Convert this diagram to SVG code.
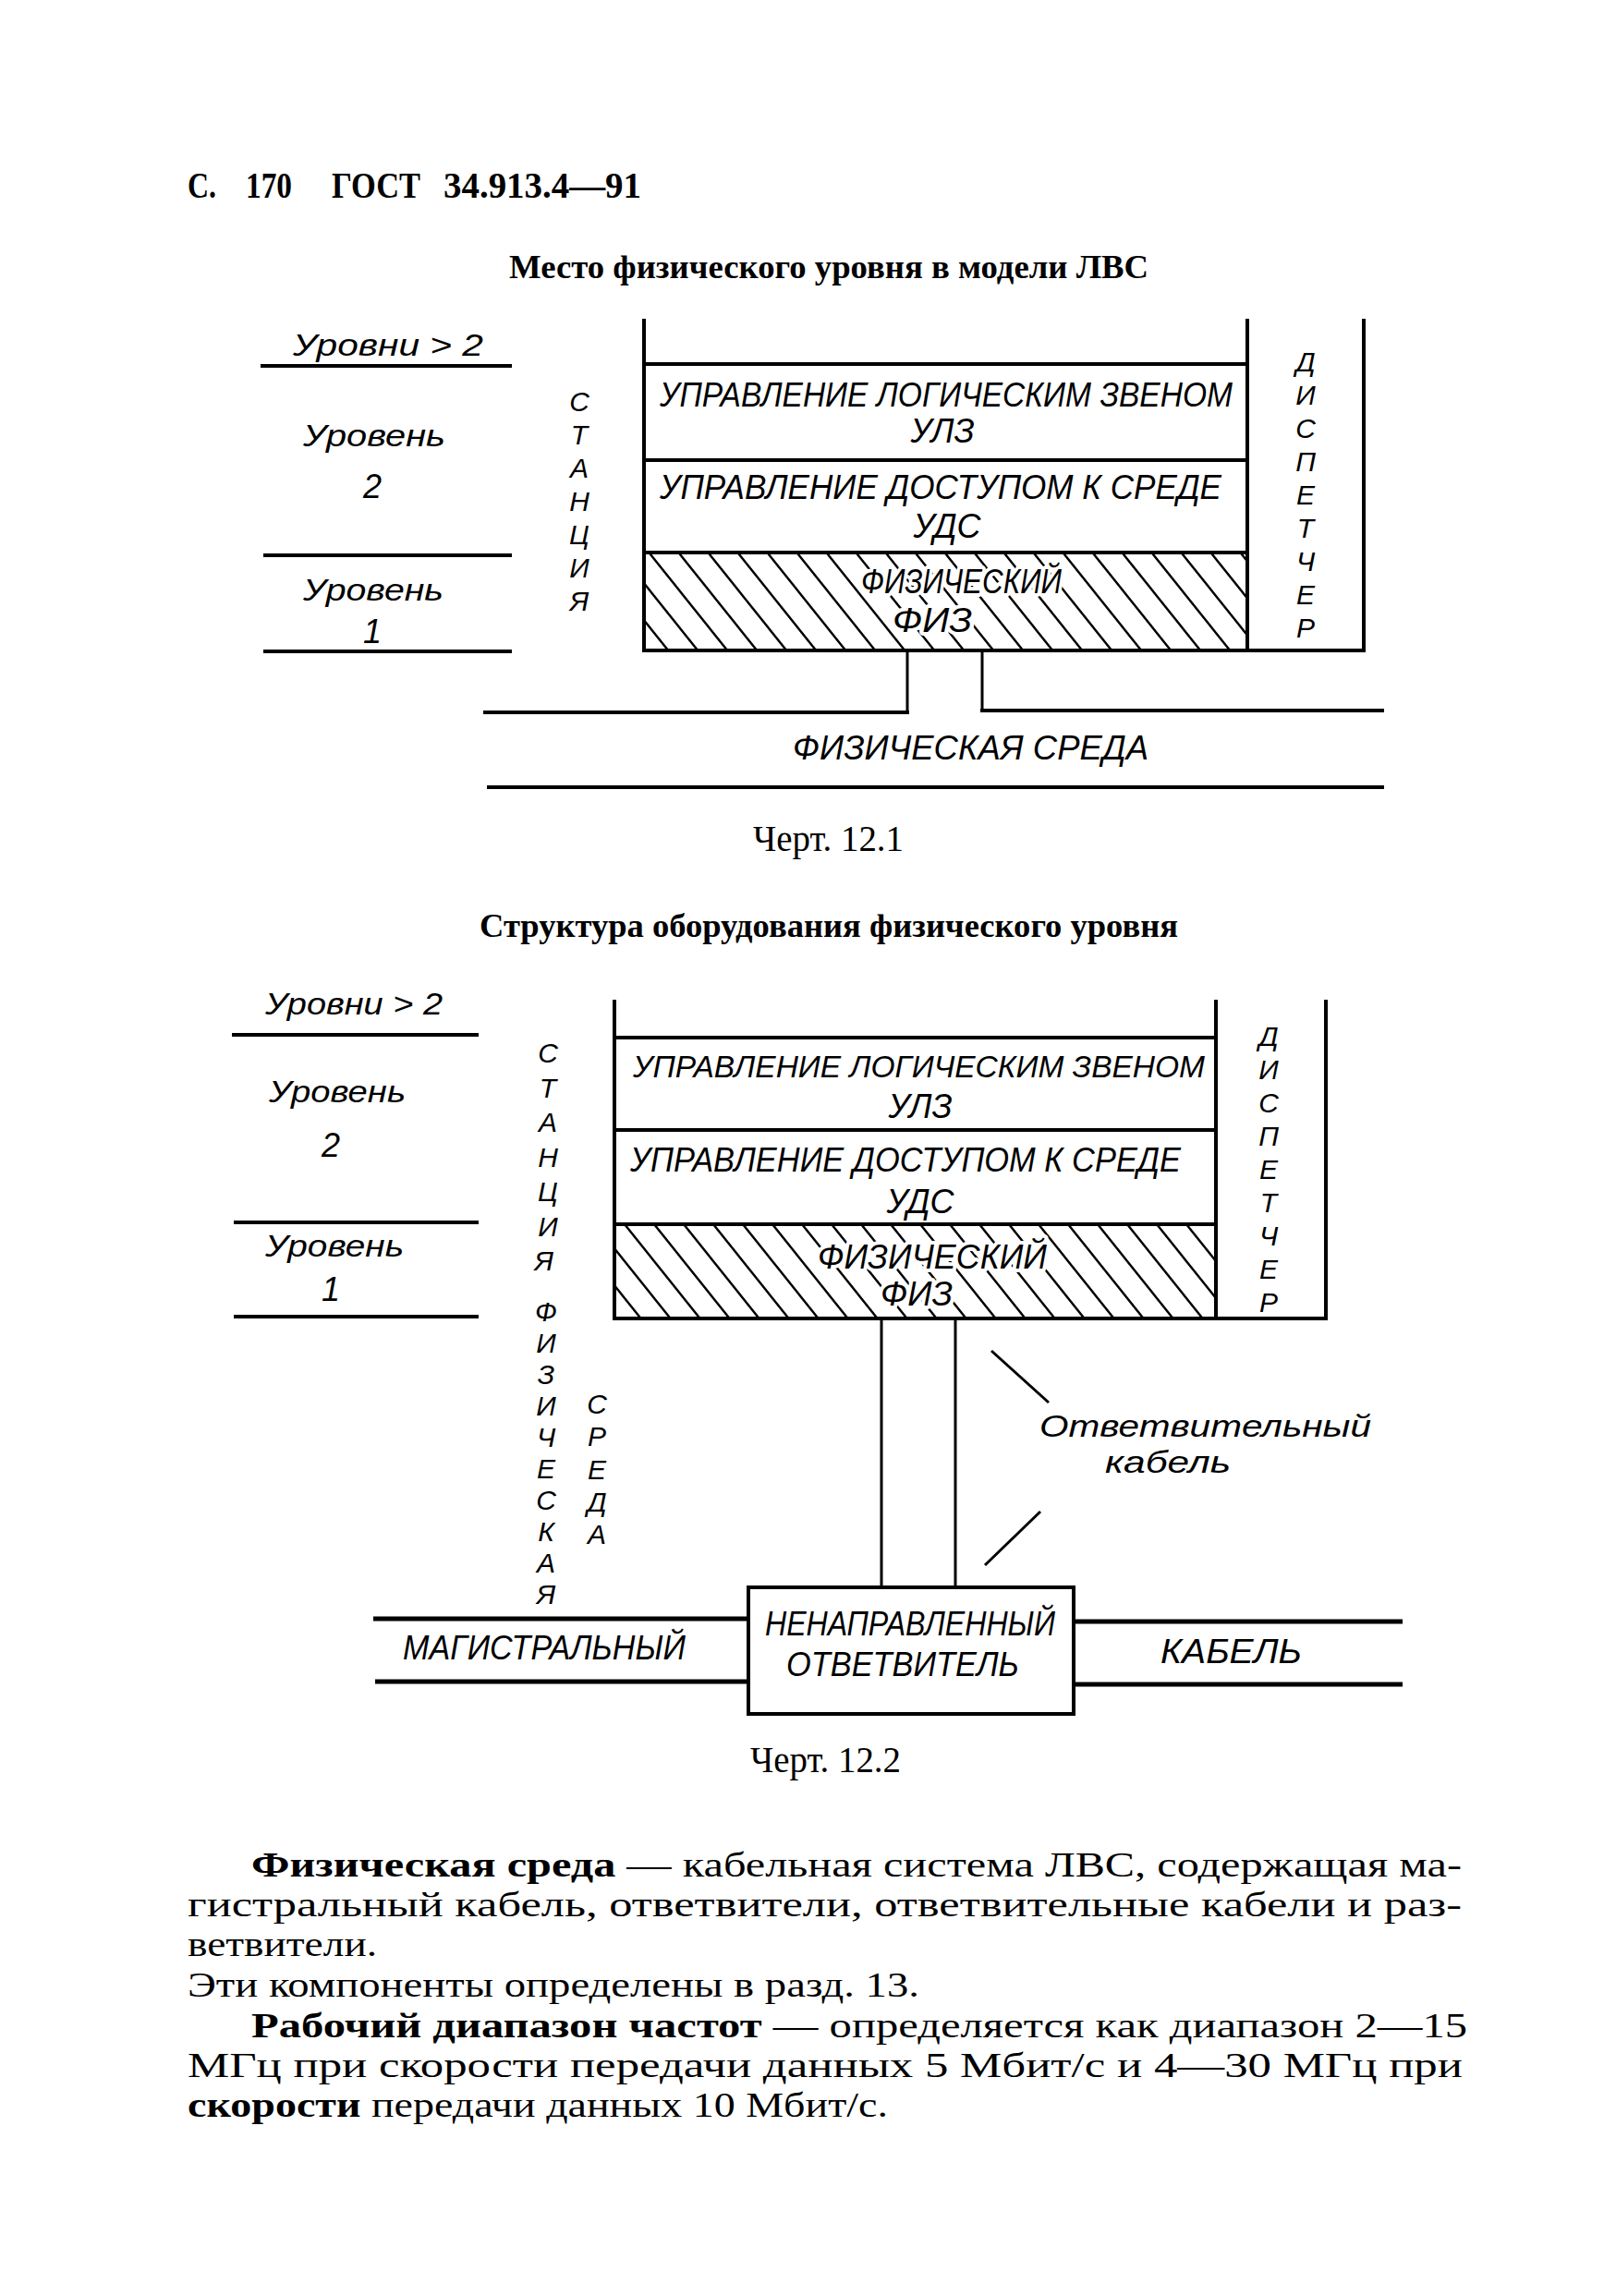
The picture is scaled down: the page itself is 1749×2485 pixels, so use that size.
<svg xmlns="http://www.w3.org/2000/svg" width="1749" height="2485" viewBox="0 0 1749 2485">
<style>
.ln{stroke:#000;stroke-width:4;fill:none}
.lt{stroke:#000;stroke-width:3;fill:none}
.tr{stroke:#000;stroke-width:5;fill:none}
.d{font-family:"Liberation Sans","DejaVu Sans",sans-serif;font-style:italic;fill:#000}
.s{font-family:"Liberation Serif","DejaVu Serif",serif;fill:#000}
.b{font-weight:bold}
.halo{stroke:#fff;stroke-width:8;paint-order:stroke;stroke-linejoin:round}
.col{text-anchor:middle;font-size:30px}
</style>
<defs>
<pattern id="hatch" patternUnits="userSpaceOnUse" width="32" height="40">
<path d="M-8,-10 L40,50 M24,-10 L72,50 M-40,-10 L8,50" stroke="#000" stroke-width="2.4" fill="none"/>
</pattern>
</defs>
<rect x="0" y="0" width="1749" height="2485" fill="#fff"/>

<g id="header">
<text class="s b" x="203" y="214" font-size="40" textLength="31" lengthAdjust="spacingAndGlyphs">С.</text>
<text class="s b" x="266" y="214" font-size="40" textLength="50" lengthAdjust="spacingAndGlyphs">170</text>
<text class="s b" x="359" y="214" font-size="40" textLength="96" lengthAdjust="spacingAndGlyphs">ГОСТ</text>
<text class="s b" x="480" y="214" font-size="40" textLength="214" lengthAdjust="spacingAndGlyphs">34.913.4—91</text>
</g>

<!-- Figure 12.1 -->
<g id="title1"><text class="s b" x="551" y="301" font-size="35" textLength="692" lengthAdjust="spacingAndGlyphs">Место физического уровня в модели ЛВС</text></g>

<g id="levels1">
<text class="d" x="317" y="385" font-size="34" textLength="206" lengthAdjust="spacingAndGlyphs">Уровни &gt; 2</text>
<line class="ln" x1="282" y1="396" x2="554" y2="396"/>
<text class="d" x="328" y="483" font-size="34" textLength="154" lengthAdjust="spacingAndGlyphs">Уровень</text>
<text class="d" x="403" y="539" font-size="36" text-anchor="middle">2</text>
<line class="ln" x1="285" y1="601" x2="554" y2="601"/>
<text class="d" x="328" y="650" font-size="34" textLength="152" lengthAdjust="spacingAndGlyphs">Уровень</text>
<text class="d" x="403" y="696" font-size="36" text-anchor="middle">1</text>
<line class="ln" x1="285" y1="705" x2="554" y2="705"/>
</g>

<g id="station1">
<text class="d col">
<tspan x="627" y="445">С</tspan><tspan x="627" y="481">Т</tspan><tspan x="627" y="517">А</tspan><tspan x="627" y="553">Н</tspan><tspan x="627" y="589">Ц</tspan><tspan x="627" y="625">И</tspan><tspan x="627" y="661">Я</tspan>
</text>
</g>

<g id="stack1">
<rect x="697" y="598" width="653" height="106" fill="url(#hatch)"/>
<line class="ln" x1="697" y1="345" x2="697" y2="706"/>
<line class="ln" x1="1350" y1="345" x2="1350" y2="704"/>
<line class="ln" x1="697" y1="394" x2="1350" y2="394"/>
<line class="ln" x1="697" y1="498" x2="1350" y2="498"/>
<line class="ln" x1="697" y1="598" x2="1350" y2="598"/>
<line class="ln" x1="695" y1="704" x2="1478" y2="704"/>
<text class="d" x="714" y="440" font-size="36" textLength="620" lengthAdjust="spacingAndGlyphs">УПРАВЛЕНИЕ ЛОГИЧЕСКИМ ЗВЕНОМ</text>
<text class="d" x="1020" y="479" font-size="36" text-anchor="middle">УЛЗ</text>
<text class="d" x="714" y="540" font-size="37" textLength="608" lengthAdjust="spacingAndGlyphs">УПРАВЛЕНИЕ ДОСТУПОМ К СРЕДЕ</text>
<text class="d" x="1025" y="582" font-size="36" text-anchor="middle">УДС</text>
<text class="d halo" x="932" y="642" font-size="36" textLength="217" lengthAdjust="spacingAndGlyphs">ФИЗИЧЕСКИЙ</text>
<text class="d halo" x="966" y="684" font-size="36" textLength="86" lengthAdjust="spacingAndGlyphs">ФИЗ</text>
</g>

<g id="dispatcher1">
<line class="ln" x1="1476" y1="345" x2="1476" y2="706"/>
<text class="d col">
<tspan x="1413" y="402">Д</tspan><tspan x="1413" y="438">И</tspan><tspan x="1413" y="474">С</tspan><tspan x="1413" y="510">П</tspan><tspan x="1413" y="546">Е</tspan><tspan x="1413" y="582">Т</tspan><tspan x="1413" y="618">Ч</tspan><tspan x="1413" y="654">Е</tspan><tspan x="1413" y="690">Р</tspan>
</text>
</g>

<g id="medium1">
<line class="ln" x1="523" y1="771" x2="984" y2="771"/>
<line class="ln" x1="1061" y1="769" x2="1498" y2="769"/>
<text class="d" x="858" y="822" font-size="37" textLength="385" lengthAdjust="spacingAndGlyphs">ФИЗИЧЕСКАЯ СРЕДА</text>
<line class="ln" x1="527" y1="852" x2="1498" y2="852"/>
</g>

<g id="connectors1">
<line class="lt" x1="982" y1="704" x2="982" y2="773"/>
<line class="lt" x1="1063" y1="704" x2="1063" y2="771"/>
</g>

<g id="caption1"><text class="s" x="815" y="921" font-size="39" textLength="163" lengthAdjust="spacingAndGlyphs">Черт. 12.1</text></g>

<!-- Figure 12.2 -->
<g id="title2"><text class="s b" x="519" y="1014" font-size="35" textLength="756" lengthAdjust="spacingAndGlyphs">Структура оборудования физического уровня</text></g>

<g id="levels2">
<text class="d" x="287" y="1098" font-size="34" textLength="192" lengthAdjust="spacingAndGlyphs">Уровни &gt; 2</text>
<line class="ln" x1="251" y1="1120" x2="518" y2="1120"/>
<text class="d" x="291" y="1193" font-size="34" textLength="148" lengthAdjust="spacingAndGlyphs">Уровень</text>
<text class="d" x="358" y="1252" font-size="36" text-anchor="middle">2</text>
<line class="ln" x1="253" y1="1323" x2="518" y2="1323"/>
<text class="d" x="287" y="1360" font-size="34" textLength="150" lengthAdjust="spacingAndGlyphs">Уровень</text>
<text class="d" x="358" y="1408" font-size="36" text-anchor="middle">1</text>
<line class="ln" x1="253" y1="1425" x2="518" y2="1425"/>
</g>

<g id="station2">
<text class="d col">
<tspan x="593" y="1150">С</tspan><tspan x="593" y="1188">Т</tspan><tspan x="593" y="1225">А</tspan><tspan x="593" y="1263">Н</tspan><tspan x="593" y="1300">Ц</tspan><tspan x="593" y="1338">И</tspan><tspan x="593" y="1375">Я</tspan>
<tspan x="591" y="1430">Ф</tspan><tspan x="591" y="1464">И</tspan><tspan x="591" y="1498">З</tspan><tspan x="591" y="1532">И</tspan><tspan x="591" y="1566">Ч</tspan><tspan x="591" y="1600">Е</tspan><tspan x="591" y="1634">С</tspan><tspan x="591" y="1668">К</tspan><tspan x="591" y="1702">А</tspan><tspan x="591" y="1736">Я</tspan>
</text>
<text class="d col">
<tspan x="646" y="1530">С</tspan><tspan x="646" y="1565">Р</tspan><tspan x="646" y="1601">Е</tspan><tspan x="646" y="1636">Д</tspan><tspan x="646" y="1671">А</tspan>
</text>
</g>

<g id="stack2">
<rect x="665" y="1325" width="651" height="102" fill="url(#hatch)"/>
<line class="ln" x1="665" y1="1082" x2="665" y2="1429"/>
<line class="ln" x1="1316" y1="1082" x2="1316" y2="1427"/>
<line class="ln" x1="665" y1="1123" x2="1316" y2="1123"/>
<line class="ln" x1="665" y1="1223" x2="1316" y2="1223"/>
<line class="ln" x1="665" y1="1325" x2="1316" y2="1325"/>
<line class="ln" x1="663" y1="1427" x2="1437" y2="1427"/>
<text class="d" x="685" y="1166" font-size="34" textLength="619" lengthAdjust="spacingAndGlyphs">УПРАВЛЕНИЕ ЛОГИЧЕСКИМ ЗВЕНОМ</text>
<text class="d" x="996" y="1210" font-size="36" text-anchor="middle">УЛЗ</text>
<text class="d" x="682" y="1268" font-size="36" textLength="596" lengthAdjust="spacingAndGlyphs">УПРАВЛЕНИЕ ДОСТУПОМ К СРЕДЕ</text>
<text class="d" x="996" y="1313" font-size="36" text-anchor="middle">УДС</text>
<text class="d halo" x="885" y="1373" font-size="36" textLength="248" lengthAdjust="spacingAndGlyphs">ФИЗИЧЕСКИЙ</text>
<text class="d halo" x="953" y="1413" font-size="36" textLength="78" lengthAdjust="spacingAndGlyphs">ФИЗ</text>
</g>

<g id="dispatcher2">
<line class="ln" x1="1435" y1="1082" x2="1435" y2="1429"/>
<text class="d col">
<tspan x="1373" y="1132">Д</tspan><tspan x="1373" y="1168">И</tspan><tspan x="1373" y="1204">С</tspan><tspan x="1373" y="1240">П</tspan><tspan x="1373" y="1276">Е</tspan><tspan x="1373" y="1312">Т</tspan><tspan x="1373" y="1348">Ч</tspan><tspan x="1373" y="1384">Е</tspan><tspan x="1373" y="1420">Р</tspan>
</text>
</g>

<g id="coupler">
<rect class="ln" x="810" y="1718" width="352" height="137"/>
<text class="d" x="828" y="1770" font-size="37" textLength="314" lengthAdjust="spacingAndGlyphs">НЕНАПРАВЛЕННЫЙ</text>
<text class="d" x="851" y="1814" font-size="37" textLength="252" lengthAdjust="spacingAndGlyphs">ОТВЕТВИТЕЛЬ</text>
</g>

<g id="trunk">
<text class="d" x="436" y="1796" font-size="37" textLength="306" lengthAdjust="spacingAndGlyphs">МАГИСТРАЛЬНЫЙ</text>
<text class="d" x="1256" y="1800" font-size="37" textLength="153" lengthAdjust="spacingAndGlyphs">КАБЕЛЬ</text>
</g>

<g id="dropcable">
<text class="d" x="1125" y="1555" font-size="34" textLength="359" lengthAdjust="spacingAndGlyphs">Ответвительный</text>
<text class="d" x="1196" y="1594" font-size="34" textLength="136" lengthAdjust="spacingAndGlyphs">кабель</text>
</g>

<g id="connectors2">
<line class="lt" x1="954" y1="1427" x2="954" y2="1718"/>
<line class="lt" x1="1034" y1="1427" x2="1034" y2="1718"/>
<line class="tr" x1="404" y1="1752" x2="810" y2="1752"/>
<line class="tr" x1="406" y1="1820" x2="810" y2="1820"/>
<line class="tr" x1="1162" y1="1755" x2="1518" y2="1755"/>
<line class="tr" x1="1162" y1="1823" x2="1518" y2="1823"/>
<line class="lt" x1="1073" y1="1462" x2="1135" y2="1518"/>
<line class="lt" x1="1126" y1="1636" x2="1066" y2="1694"/>
</g>

<g id="caption2"><text class="s" x="812" y="1918" font-size="39" textLength="163" lengthAdjust="spacingAndGlyphs">Черт. 12.2</text></g>

<g id="body">
<text class="s" x="272" y="2031" font-size="38" textLength="1310" lengthAdjust="spacingAndGlyphs"><tspan class="b">Физическая среда</tspan> — кабельная система ЛВС,  содержащая ма-</text>
<text class="s" x="203" y="2074" font-size="38" textLength="1379" lengthAdjust="spacingAndGlyphs">гистральный кабель,  ответвители,  ответвительные кабели и раз-</text>
<text class="s" x="203" y="2117" font-size="38" textLength="205" lengthAdjust="spacingAndGlyphs">ветвители.</text>
<text class="s" x="203" y="2161" font-size="38" textLength="792" lengthAdjust="spacingAndGlyphs">Эти компоненты определены в разд. 13.</text>
<text class="s" x="272" y="2205" font-size="38" textLength="1316" lengthAdjust="spacingAndGlyphs"><tspan class="b">Рабочий диапазон частот</tspan> — определяется   как диапазон 2—15</text>
<text class="s" x="203" y="2248" font-size="38" textLength="1380" lengthAdjust="spacingAndGlyphs">МГц при скорости передачи данных  5 Мбит/с и 4—30 МГц  при</text>
<text class="s" x="203" y="2291" font-size="38" textLength="758" lengthAdjust="spacingAndGlyphs"><tspan class="b">скорости</tspan> передачи данных 10 Мбит/с.</text>
</g>
</svg>
